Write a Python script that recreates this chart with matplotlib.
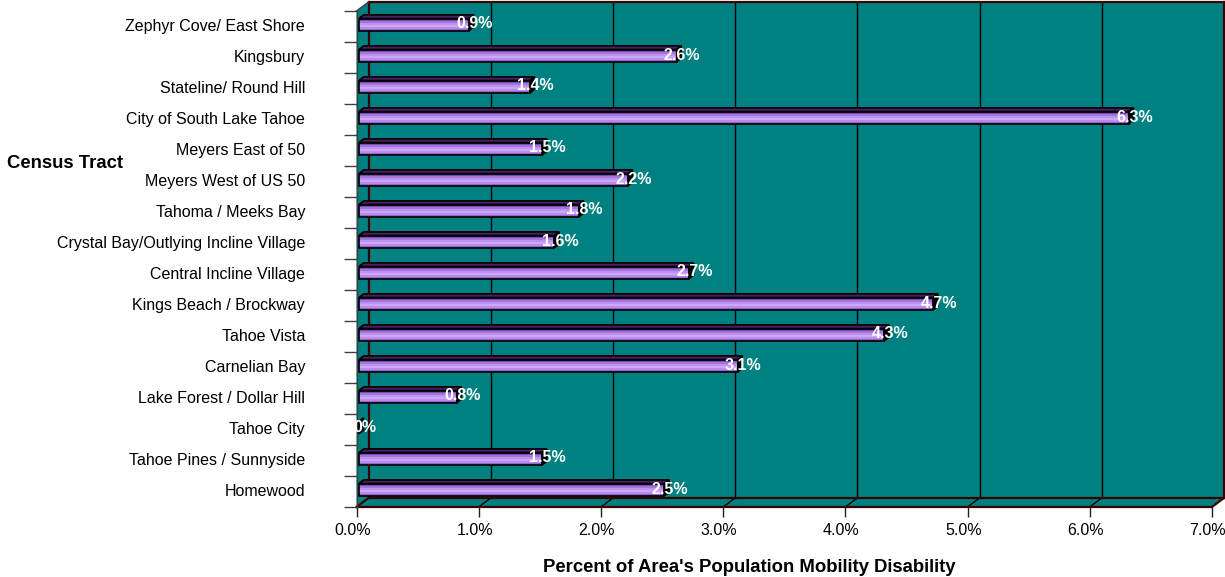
import matplotlib
matplotlib.use("Agg")
import matplotlib.pyplot as plt
import numpy as np
from matplotlib.patches import Polygon, Rectangle
from matplotlib.transforms import Affine2D, IdentityTransform

# Census tracts, top to bottom, and share of population with a mobility disability (%)
tracts = [
    "Zephyr Cove/ East Shore",
    "Kingsbury",
    "Stateline/ Round Hill",
    "City of South Lake Tahoe",
    "Meyers East of 50",
    "Meyers West of US 50",
    "Tahoma / Meeks Bay",
    "Crystal Bay/Outlying Incline Village",
    "Central Incline Village",
    "Kings Beach / Brockway",
    "Tahoe Vista",
    "Carnelian Bay",
    "Lake Forest / Dollar Hill",
    "Tahoe City",
    "Tahoe Pines / Sunnyside",
    "Homewood",
]
mobility_pct = [0.9, 2.6, 1.4, 6.3, 1.5, 2.2, 1.8, 1.6, 2.7, 4.7, 4.3, 3.1, 0.8, 0.0, 1.5, 2.5]
x_ticks = [0, 1, 2, 3, 4, 5, 6, 7]
x_tick_labels = [f"{t:.1f}%" for t in x_ticks]
value_labels = [f"{v:.1f}%" if v else "0%" for v in mobility_pct]

plt.rcParams["font.family"] = ["Liberation Sans", "DejaVu Sans"]

W, H = 1225, 577
fig = plt.figure(figsize=(W / 100, H / 100), dpi=100)

TEAL = "#008080"
EDGE = "#3a0000"
n = len(tracts)

# front plane of the 3-D box, in pixels from the top-left corner
L, R, T, B = 356.5, 1211.9, 11, 507
ax = fig.add_axes([L / W, 1 - B / H, (R - L) / W, (B - T) / H])
ax.set_xlim(0, 7)
ax.set_ylim(n, 0)
ax.patch.set_visible(False)

DX, DY = 12, 9  # depth of the box (pixels right, up)


def at(d):
    """Data transform pushed back by fraction d of the box depth."""
    return ax.transData + Affine2D().translate(DX * d, DY * d)


def pts(seq):
    return np.array([at(d).transform((x, y)) for x, y, d in seq])


def poly(seq, **kw):
    p = Polygon(pts(seq), closed=True, transform=IdentityTransform(),
                clip_on=False, **kw)
    ax.add_patch(p)
    return p


def seg(a, b, **kw):
    xy = pts([a, b])
    ax.add_line(plt.Line2D(xy[:, 0], xy[:, 1], transform=IdentityTransform(),
                           clip_on=False, **kw))


xmax = x_ticks[-1]
# walls and floor
poly([(0, 0, 1), (xmax, 0, 1), (xmax, n, 1), (0, n, 1)], fc=TEAL, ec="none", zorder=0)
poly([(0, n, 0), (xmax, n, 0), (xmax, n, 1), (0, n, 1)], fc=TEAL, ec="none", zorder=0)
poly([(0, 0, 0), (0, 0, 1), (0, n, 1), (0, n, 0)], fc=TEAL, ec="none", zorder=0)

# gridlines on the back wall and across the floor
for t in x_ticks[1:-1]:
    seg((t, 0, 1), (t, n, 1), color="black", lw=1, zorder=1)
    seg((t, n, 1), (t, n, 0), color="black", lw=1, zorder=1)

# box edges
for a, b in [((0, 0, 1), (xmax, 0, 1)), ((xmax, 0, 1), (xmax, n, 1)),
             ((0, 0, 1), (0, n, 1)), ((0, n, 1), (xmax, n, 1)),
             ((0, n, 0), (xmax, n, 0)), ((xmax, n, 0), (xmax, n, 1)),
             ((0, n, 0), (0, n, 1))]:
    seg(a, b, color=EDGE, lw=1.6, zorder=1.5)
seg((0, 0, 0), (0, 0, 1), color="#404040", lw=1, zorder=1.5)

# bars
d0, d1 = 0.2, 0.6
half = 0.2
shade = ["#7a4cae", "#a274dc", "#bd92f0", "#cda6f8", "#b98cec", "#9264cc"]
for i, v in enumerate(mobility_pct):
    c = i + 0.5
    y0 = c - half
    step = 2 * half / len(shade)
    for k, col in enumerate(shade):
        ax.add_patch(Rectangle((0, y0 + k * step), v, step, fc=col, ec="none",
                               transform=at(d0), clip_on=False, zorder=3))
    ax.add_patch(Rectangle((0, y0), v, 2 * half, fc="none", ec="black", lw=1.2,
                           transform=at(d0), clip_on=False, zorder=3.2))
    poly([(0, y0, d0), (v, y0, d0), (v, y0, d1), (0, y0, d1)],
         fc="#4a2266", ec="black", lw=1.2, zorder=3.1)
    poly([(v, y0, d0), (v, y0, d1), (v, c + half, d1), (v, c + half, d0)],
         fc="black", ec="black", lw=1, zorder=3.1)
    ax.text(v, c, value_labels[i], transform=ax.transData + Affine2D().translate(8, 2.5),
            ha="center", va="center", color="white", fontweight="bold",
            fontsize=11.5, zorder=5, clip_on=False)

# axes: category ticks on the left, percent ticks below
for s in ["top", "right", "bottom"]:
    ax.spines[s].set_visible(False)
ax.spines["left"].set_color("#404040")
ax.spines["left"].set_linewidth(1)

ax.set_yticks(np.arange(n + 1))
ax.set_yticklabels([])
ax.set_yticks(np.arange(n) + 0.5, minor=True)
ax.set_yticklabels(tracts, minor=True, fontsize=11.5)
ax.tick_params(axis="y", which="major", length=9.4, width=1, color="#404040", direction="out")
ax.tick_params(axis="y", which="minor", length=0, pad=37)
for lbl in ax.get_yticklabels(minor=True):
    lbl.set_transform(lbl.get_transform() + Affine2D().translate(0, 1.5))

ax.set_xticks(x_ticks)
ax.set_xticklabels(x_tick_labels, fontsize=11.5)
ax.tick_params(axis="x", length=7.2, width=1, color="#202020", direction="out", pad=4)
for lbl in ax.get_xticklabels():
    lbl.set_transform(lbl.get_transform() + Affine2D().translate(-4, 0))

fig.text(749 / W, 1 - 568 / H, "Percent of Area's Population Mobility Disability",
         ha="center", va="center", fontsize=13.3, fontweight="bold")
fig.text(7 / W, 1 - 163 / H, "Census Tract", ha="left", va="center",
         fontsize=13.3, fontweight="bold")

fig.savefig("out.png", dpi=100)
